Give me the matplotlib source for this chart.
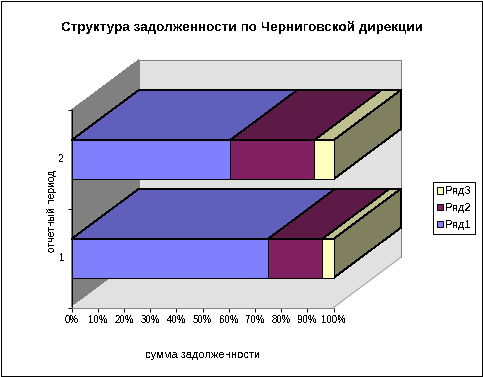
import numpy as np
import matplotlib
matplotlib.use('Agg')
import matplotlib.pyplot as plt
from matplotlib.patches import Patch, Polygon, Rectangle

# Datos
periods = ['1', '2']
ryad1 = [75.0, 60.5]
ryad2 = [20.7, 32.1]
ryad3 = [4.3, 7.4]
series_names = ['Ряд1', 'Ряд2', 'Ряд3']
x_ticks = [0, 10, 20, 30, 40, 50, 60, 70, 80, 90, 100]

title = 'Структура задолженности по Черниговской дирекции'
xlabel = 'сумма задолженности'
ylabel = 'отчетный период'

# colores: frente, arriba, lado
front = ['#8080FF', '#802060', '#FFFFC0']
top = ['#6060BC', '#5E1A46', '#BFBF90']
side = '#808060'

plt.rcParams['font.family'] = ['Liberation Sans', 'DejaVu Sans']
plt.rcParams['text.antialiased'] = False

W, H = 483, 377
fig = plt.figure(figsize=(W / 100, H / 100), dpi=100)

# ejes = cara frontal, en pixeles de la imagen
left, right, y_top, y_bot = 71.5, 333.5, 110.0, 307.5
ax = fig.add_axes([left / W, 1 - y_bot / H, (right - left) / W, (y_bot - y_top) / H])
ax.set_xlim(0, 100)
ax.set_ylim(0, len(periods))
ax.patch.set_visible(False)

# profundidad en unidades de datos
dx = 67.5 / (right - left) * 100
dy = 50.3 / (y_bot - y_top) * len(periods)
ymax = len(periods)


def poly(pts, fc, ec='none', lw=0.0, z=1):
    ax.add_patch(Polygon(pts, closed=True, fc=fc, ec=ec, lw=lw, zorder=z,
                         clip_on=False, antialiased=False))


# paredes y piso
poly([(0, 0), (dx, dy), (dx, ymax + dy), (0, ymax)], '#808080')
poly([(dx, dy), (100 + dx, dy), (100 + dx, ymax + dy), (dx, ymax + dy)], '#E1E1E1', '#808080', 0.7)
poly([(0, 0), (100, 0), (100 + dx, dy), (dx, dy)], '#E1E1E1')
ax.plot([100, 100 + dx], [0, dy], color='#A0A0A0', lw=0.7, clip_on=False, zorder=1.5)

# barras, de atras hacia adelante
bar_h = 39.0 / (y_bot - y_top) * len(periods)
values = np.array([ryad1, ryad2, ryad3])
for i in [1, 0]:
    y0 = i + 0.497 - bar_h / 2
    y1 = y0 + bar_h
    z = 3 + (1 - i) * 3
    start = 0.0
    for s in range(3):
        end = start + values[s, i]
        poly([(start, y1), (end, y1), (end + dx, y1 + dy), (start + dx, y1 + dy)],
             top[s], 'black', 0.55, z)
        start = end
    poly([(100, y0), (100 + dx, y0 + dy), (100 + dx, y1 + dy), (100, y1)], side, 'black', 0.55, z)
    start = 0.0
    for s in range(3):
        ax.add_patch(Rectangle((start, y0), values[s, i], bar_h, fc=front[s], ec='black',
                               lw=0.7, zorder=z + 1, clip_on=False, antialiased=False))
        start += values[s, i]

# ejes
for name in ['top', 'right']:
    ax.spines[name].set_visible(False)
for name in ['left', 'bottom']:
    ax.spines[name].set_linewidth(0.7)
    ax.spines[name].set_zorder(10)
ax.spines['bottom'].set_color('#808080')
ax.set_xticks(x_ticks)
ax.set_xticklabels([f'{t}%' for t in x_ticks])
ax.set_yticks(range(len(periods) + 1))
ax.set_yticklabels([])
ax.tick_params(length=3.0, width=0.7, labelsize=6.9, pad=2.5)
for i, p in enumerate(periods):
    ax.annotate(p, (0, i + 0.5), xytext=(-5, 0), textcoords='offset points',
                ha='right', va='center', fontsize=7.2)

fig.text(242 / W, 1 - 27.5 / H, title, ha='center', va='center', fontsize=9.7, fontweight='bold')
fig.text(203 / W, 1 - 355 / H, xlabel, ha='center', va='center', fontsize=8.0)
fig.text(52 / W, 1 - 211 / H, ylabel, ha='center', va='center', fontsize=7.5, rotation=90)

# leyenda
handles = [Patch(fc=front[s], ec='black', lw=0.7, label=series_names[s]) for s in [2, 1, 0]]
fig.legend(handles=handles, loc='upper left', bbox_to_anchor=(432.8 / W, 1 - 182.3 / H),
           fontsize=8.0, fancybox=False, framealpha=1, edgecolor='black',
           borderaxespad=0, borderpad=0.35, handlelength=0.55, handleheight=0.55,
           handletextpad=0.2, labelspacing=0.62).get_frame().set_linewidth(0.7)

# borde de la figura
fig.add_artist(Rectangle((0.5 / W, 1 - 376 / H), 481.2 / W, 375.5 / H, transform=fig.transFigure,
                         fc='none', ec='black', lw=0.7, antialiased=False))

fig.savefig('out.png', dpi=100)
